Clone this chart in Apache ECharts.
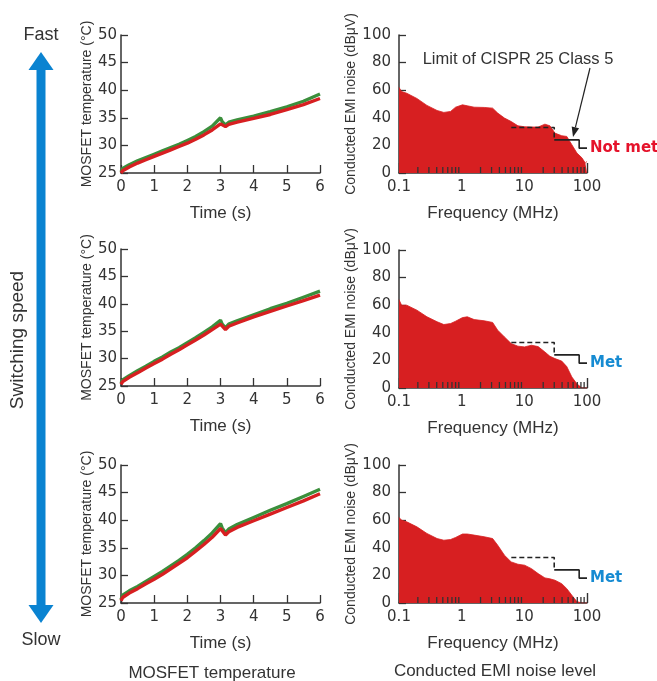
<!DOCTYPE html>
<html><head><meta charset="utf-8">
<script src="https://cdn.jsdelivr.net/npm/echarts@6/dist/echarts.min.js"></script>
<style>html,body{margin:0;padding:0;background:#fff}#c{width:657px;height:681px}</style>
</head><body><div id="c"></div>
<script>
// ---------------- DATA ----------------
const timeS = [0, 0.05, 0.25, 0.5, 0.75, 1, 1.25, 1.5, 1.75, 2, 2.25, 2.5, 2.75, 3.0, 3.05, 3.15, 3.25, 3.5, 4, 4.5, 5, 5.5, 6];
const tempFastRed   = [25.0, 25.4, 26.1, 26.8, 27.4, 28.0, 28.6, 29.2, 29.8, 30.4, 31.1, 31.9, 32.8, 33.9, 34.0, 33.4, 33.8, 34.2, 34.9, 35.6, 36.5, 37.4, 38.5];
const tempFastGreen = [25.2, 25.8, 26.5, 27.2, 27.8, 28.4, 29.0, 29.6, 30.2, 30.9, 31.6, 32.5, 33.5, 35.0, 34.3, 33.7, 34.2, 34.6, 35.3, 36.1, 37.0, 38.0, 39.3];
const tempMidRed    = [25.3, 25.8, 26.6, 27.4, 28.3, 29.1, 29.9, 30.8, 31.6, 32.5, 33.4, 34.3, 35.3, 36.3, 36.0, 35.3, 35.9, 36.5, 37.6, 38.6, 39.6, 40.6, 41.6];
const tempMidGreen  = [25.5, 26.1, 26.9, 27.8, 28.6, 29.5, 30.3, 31.2, 32.0, 32.9, 33.8, 34.8, 35.8, 37.0, 36.3, 35.6, 36.3, 36.9, 38.0, 39.1, 40.1, 41.2, 42.3];
const tempSlowRed   = [25.4, 26.0, 26.8, 27.6, 28.5, 29.3, 30.2, 31.2, 32.2, 33.2, 34.4, 35.6, 36.9, 38.5, 38.2, 37.3, 37.9, 38.7, 39.9, 41.1, 42.3, 43.5, 44.8];
const tempSlowGreen = [25.6, 26.4, 27.2, 28.0, 28.9, 29.8, 30.7, 31.7, 32.7, 33.8, 35.0, 36.3, 37.7, 39.4, 38.6, 37.7, 38.4, 39.2, 40.5, 41.8, 43.0, 44.3, 45.6];

const freqMHz = [0.1, 0.11, 0.133, 0.193, 0.279, 0.405, 0.519, 0.665, 0.80, 1.03, 1.23, 1.58, 2.29, 3.12, 3.76, 4.82, 6.17, 7.9, 10.1, 13.0, 16.6, 21.3, 25.6, 30.8, 39.5, 47.6, 57.3, 69, 83, 94, 100];
const emiFast = [62, 59, 57.8, 54, 49, 45.3, 43.9, 44.6, 47.7, 49.4, 48.7, 47.7, 47.5, 47, 43.4, 39.8, 37.3, 34.2, 33.5, 33.3, 33.3, 35.4, 34.2, 28.9, 27, 26.5, 20.5, 14.5, 11, 7.2, 8.4];
const emiMid  = [64, 60, 60, 56.4, 51.6, 48, 46, 46.7, 48.4, 51, 51.6, 49.6, 48.7, 47.5, 41.9, 37, 32.2, 30.3, 29.8, 31, 30, 26.1, 23, 21.3, 19.5, 15.5, 8, 3, 0, 0, 0];
const emiSlow = [62, 60, 58.8, 55.2, 50.4, 46.7, 45.5, 46, 47.5, 50, 50, 49.2, 48, 46.7, 41.9, 34.6, 29.8, 28.1, 27.4, 24.9, 21.3, 18.2, 17.5, 16.5, 14, 10.4, 5.6, 1, 0, 0, 0];

const limitDashed = [[6.2, 33], [30, 33], [30, 24]];
const limitSolid  = [[30, 24], [75, 24], [75, 18], [100, 18]];
const verdicts = ['Not met', 'Met', 'Met'];

const tempTicks = [25, 30, 35, 40, 45, 50];
const timeTicks = [0, 1, 2, 3, 4, 5, 6];
const freqTickLabels = ['0.1', '1', '10', '100'];
const emiTicks = [0, 20, 40, 60, 80, 100];
const minorFreqTicks = [0.2,0.3,0.4,0.5,0.6,0.7,0.8,0.9,2,3,4,5,6,7,8,9,20,30,40,50,60,70,80,90];

// ---------------- CHART ----------------
const AX = '#333';
const RED = '#d71f21';
const GREEN = '#3b8f3c';
const BLUE = '#0a83d1';
const numFont = 'DejaVu Sans';
const txtFont = 'Liberation Sans';

const rowsL = [{top: 35, h: 138}, {top: 249, h: 137}, {top: 465, h: 138}];
const rowsR = [{top: 35, h: 138}, {top: 250, h: 138}, {top: 465, h: 138}];

const grids = [], xAxes = [], yAxes = [], series = [];
const tempPairs = [[tempFastRed, tempFastGreen], [tempMidRed, tempMidGreen], [tempSlowRed, tempSlowGreen]];
const emiRows = [emiFast, emiMid, emiSlow];

function zip(xs, ys) { return xs.map((x, i) => [x, ys[i]]); }

for (let r = 0; r < 3; r++) {
  // left temperature chart
  grids.push({left: 121, width: 199, top: rowsL[r].top, height: rowsL[r].h});
  const gi = grids.length - 1;
  xAxes.push({
    gridIndex: gi, type: 'value', min: timeTicks[0], max: timeTicks[timeTicks.length - 1], interval: 1,
    axisLine: {show: true, lineStyle: {color: AX, width: 1.5}},
    axisTick: {show: true, inside: true, length: 8, lineStyle: {color: AX, width: 1.3}},
    axisLabel: {color: AX, fontFamily: numFont, fontSize: 15, margin: 7},
    splitLine: {show: false},
    name: 'Time (s)', nameLocation: 'middle', nameGap: 32,
    nameTextStyle: {color: AX, fontFamily: txtFont, fontSize: 17}
  });
  yAxes.push({
    gridIndex: gi, type: 'value', min: tempTicks[0], max: tempTicks[tempTicks.length - 1], interval: 5,
    axisLine: {show: true, lineStyle: {color: AX, width: 1.5}},
    axisTick: {show: true, inside: true, length: 7, lineStyle: {color: AX, width: 1.3}},
    axisLabel: {color: AX, fontFamily: numFont, fontSize: 15, margin: 4},
    splitLine: {show: false},
    name: 'MOSFET temperature (°C)', nameLocation: 'middle', nameGap: 27,
    nameTextStyle: {color: AX, fontFamily: txtFont, fontSize: 14}
  });
  series.push({
    type: 'line', xAxisIndex: gi, yAxisIndex: gi, symbol: 'none', smooth: false,
    data: zip(timeS, tempPairs[r][1]), lineStyle: {color: GREEN, width: 3.4}, z: 2, silent: true
  });
  series.push({
    type: 'line', xAxisIndex: gi, yAxisIndex: gi, symbol: 'none', smooth: false,
    data: zip(timeS, tempPairs[r][0]), lineStyle: {color: RED, width: 3.4}, z: 3, silent: true
  });

  // right EMI chart
  grids.push({left: 399, width: 188, top: rowsR[r].top, height: rowsR[r].h});
  const gj = grids.length - 1;
  xAxes.push({
    gridIndex: gj, type: 'log', logBase: 10, min: 0.1, max: 100,
    axisLine: {show: true, lineStyle: {color: AX, width: 1.5}},
    axisTick: {show: true, inside: true, length: 10, lineStyle: {color: AX, width: 1.4}},
    axisLabel: {color: AX, fontFamily: numFont, fontSize: 15, margin: 7,
      formatter: v => freqTickLabels[Math.round(Math.log10(v)) + 1]},
    splitLine: {show: false}, minorTick: {show: false},
    name: 'Frequency (MHz)', nameLocation: 'middle', nameGap: 32,
    nameTextStyle: {color: AX, fontFamily: txtFont, fontSize: 17}
  });
  yAxes.push({
    gridIndex: gj, type: 'value', min: emiTicks[0], max: emiTicks[emiTicks.length - 1], interval: 20,
    axisLine: {show: true, lineStyle: {color: AX, width: 1.5}},
    axisTick: {show: true, inside: true, length: 7, lineStyle: {color: AX, width: 1.3}},
    axisLabel: {color: AX, fontFamily: numFont, fontSize: 15, margin: 8},
    splitLine: {show: false},
    name: 'Conducted EMI noise (dBμV)', nameLocation: 'middle', nameGap: 34,
    nameTextStyle: {color: AX, fontFamily: txtFont, fontSize: 14}
  });
  series.push({
    type: 'line', xAxisIndex: gj, yAxisIndex: gj, symbol: 'none',
    data: zip(freqMHz, emiRows[r]),
    lineStyle: {color: RED, width: 0.8}, areaStyle: {color: RED, opacity: 1}, z: 2, silent: true
  });
  series.push({
    type: 'line', xAxisIndex: gj, yAxisIndex: gj, symbol: 'none', data: limitDashed,
    lineStyle: {color: '#222', width: 1.6, type: [5, 3]}, z: 4, silent: true
  });
  const isMet = verdicts[r] === 'Met';
  series.push({
    type: 'line', xAxisIndex: gj, yAxisIndex: gj, symbol: 'none', data: limitSolid,
    lineStyle: {color: '#222', width: 1.6}, z: 4, silent: true,
    endLabel: {show: true, formatter: verdicts[r], distance: 3,
      color: isMet ? '#168bd2' : '#e5132b', fontFamily: 'DejaVu Sans', fontWeight: 'bold', fontSize: 15}
  });
  series.push({
    type: 'custom', xAxisIndex: gj, yAxisIndex: gj, silent: true, z: 5, clip: false,
    data: minorFreqTicks.map(f => [f, 0]),
    renderItem: function (params, api) {
      const p = api.coord([api.value(0), 0]);
      return {type: 'line', shape: {x1: p[0], y1: p[1], x2: p[0], y2: p[1] - 6},
        style: {stroke: AX, lineWidth: 1.3}};
    }
  });
}

// annotation arrow geometry (pixel annotation, not data)
const tip = [573, 137], tail = [590, 68];
const dx = tip[0] - tail[0], dy = tip[1] - tail[1], L = Math.hypot(dx, dy);
const ux = dx / L, uy = dy / L, hl = 10, hw = 3.8;
const base = [tip[0] - ux * hl, tip[1] - uy * hl];

const graphic = [
  {type: 'rect', shape: {x: 36.5, y: 66, width: 9, height: 542}, style: {fill: BLUE}},
  {type: 'polygon', shape: {points: [[41, 52], [28.5, 70], [53.5, 70]]}, style: {fill: BLUE}},
  {type: 'polygon', shape: {points: [[41, 623], [28.5, 605], [53.5, 605]]}, style: {fill: BLUE}},
  {type: 'text', style: {text: 'Fast', x: 41, y: 35, align: 'center', verticalAlign: 'middle', fill: AX, fontFamily: txtFont, fontSize: 18}},
  {type: 'text', style: {text: 'Slow', x: 41, y: 640, align: 'center', verticalAlign: 'middle', fill: AX, fontFamily: txtFont, fontSize: 18}},
  {type: 'text', x: 18, y: 340, rotation: Math.PI / 2,
    style: {text: 'Switching speed', x: 0, y: 0, align: 'center', verticalAlign: 'middle', fill: AX, fontFamily: txtFont, fontSize: 19}},
  {type: 'text', style: {text: 'Limit of CISPR 25 Class 5', x: 518, y: 59, align: 'center', verticalAlign: 'middle', fill: AX, fontFamily: txtFont, fontSize: 16.5}},
  {type: 'line', shape: {x1: tail[0], y1: tail[1], x2: base[0], y2: base[1]}, style: {stroke: '#222', lineWidth: 1.2}},
  {type: 'polygon', shape: {points: [tip, [base[0] - uy * hw, base[1] + ux * hw], [base[0] + uy * hw, base[1] - ux * hw]]}, style: {fill: '#222'}},
  {type: 'text', style: {text: 'MOSFET temperature', x: 212, y: 673, align: 'center', verticalAlign: 'middle', fill: AX, fontFamily: txtFont, fontSize: 17}},
  {type: 'text', style: {text: 'Conducted EMI noise level', x: 495, y: 671, align: 'center', verticalAlign: 'middle', fill: AX, fontFamily: txtFont, fontSize: 17}}
];

const chart = echarts.init(document.getElementById('c'), null, {renderer: 'canvas'});
chart.setOption({
  animation: false,
  backgroundColor: '#fff',
  grid: grids, xAxis: xAxes, yAxis: yAxes, series: series, graphic: graphic
});
</script></body></html>
